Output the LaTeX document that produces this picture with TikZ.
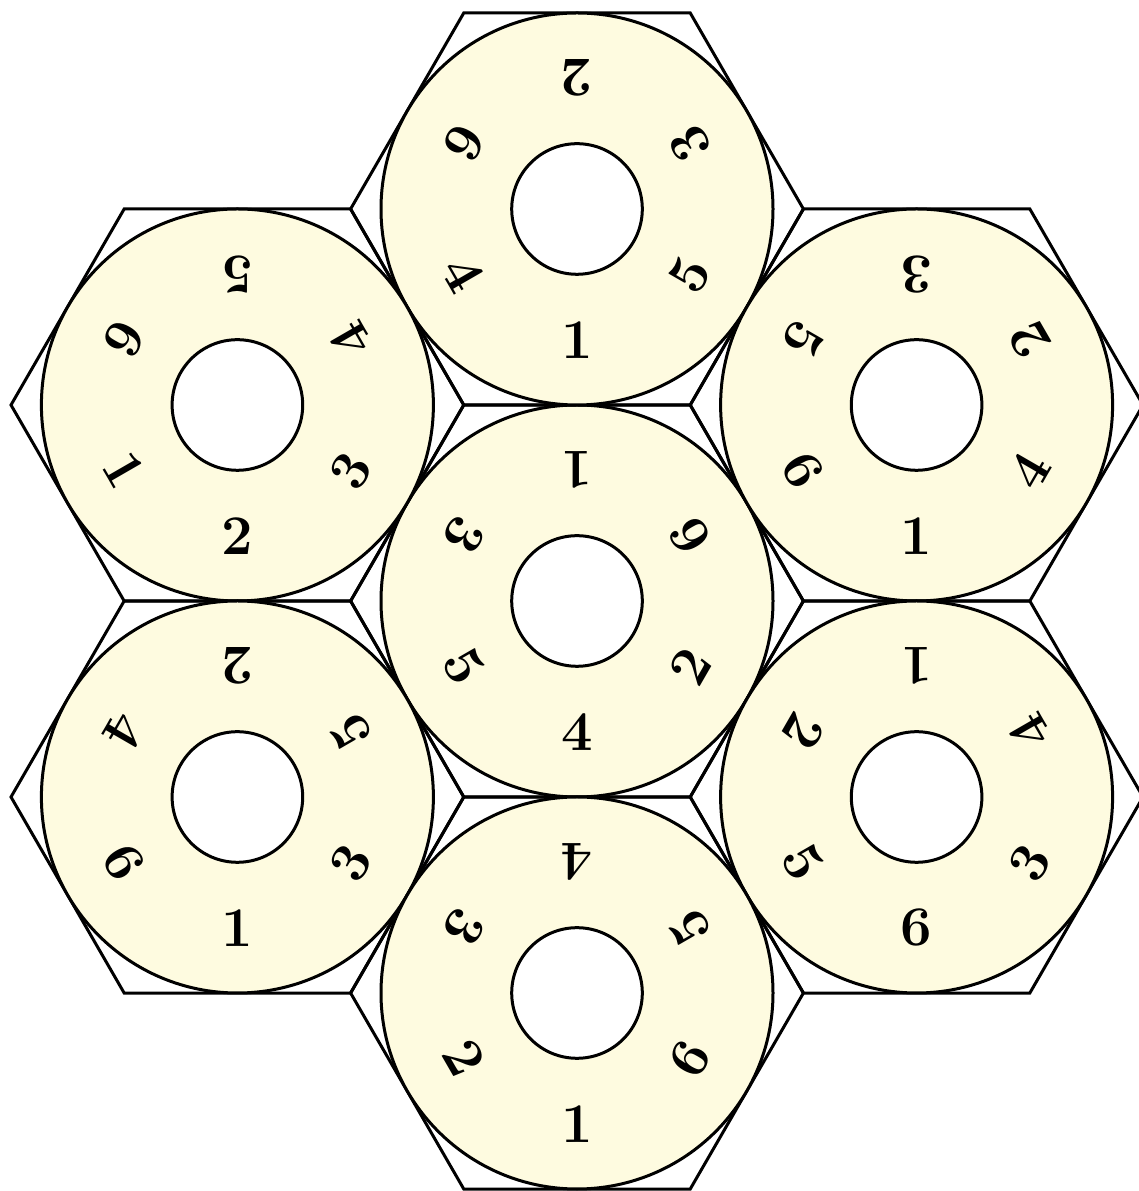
\documentclass[tikz,border=0pt]{standalone}
\definecolor{tilefill}{RGB}{254,251,224}
\tikzset{
  hexline/.style={line width=3pt, line join=miter},
  ring/.style={fill=tilefill, draw, line width=3pt},
  hole/.style={fill=white, draw, line width=3pt},
  num/.style={font=\fontsize{56}{60}\selectfont\bfseries, inner sep=0pt}
}
\begin{document}
\begin{tikzpicture}[x=1pt,y=1pt]
\useasboundingbox (0,0) rectangle (1139,1191);
\foreach \cx/\cy/\na/\nb/\nc/\nd/\ne/\nf [count=\i] in {
  577/590/1/6/2/4/5/3,
  577/982/2/3/5/1/4/6,
  237.4/786/5/4/3/2/1/6,
  916.6/786/3/2/4/1/6/5,
  237.4/394/2/5/3/1/6/4,
  916.6/394/1/4/3/6/5/2,
  577/198/4/5/6/1/2/3}{
  \begin{scope}[shift={(\cx,\cy)}]
    \draw[hexline] (0:226.4) -- (60:226.4) -- (120:226.4) -- (180:226.4) -- (240:226.4) -- (300:226.4) -- cycle;
    \draw[ring] (0,0) circle[radius=196];
    \draw[hole] (0,0) circle[radius=65.3];
    \foreach \ang/\t [count=\j] in {90/\na,30/\nb,-30/\nc,-90/\nd,-150/\ne,150/\nf}{
      \node[num, rotate=\ang+90] (n\i-\j) at (\ang:130.7) {\t};
    }
  \end{scope}
}
\end{tikzpicture}
\end{document}
